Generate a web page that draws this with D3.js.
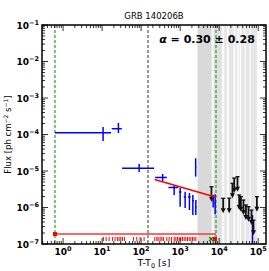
<!DOCTYPE html>
<html>
<head>
<meta charset="utf-8">
<script src="https://cdn.jsdelivr.net/npm/d3@7.9.0/dist/d3.min.js"></script>
<style>
  html, body { margin: 0; padding: 0; background: #fff; }
  svg { display: block; font-family: "DejaVu Sans", sans-serif; }
</style>
</head>
<body>
<svg id="chart" width="269" height="271"></svg>
<script>
// detected flux points: [t, tLow, tHigh, flux, fluxLow, fluxHigh]
const points = [
  [10.6, 0.62, 17.0, 1.12e-4, 6.6e-5, 1.6e-4],
  [26.2, 17.7, 32, 1.44e-4, 1.1e-4, 2.07e-4],
  [89, 32.6, 215, 1.19e-5, 9.4e-6, 1.56e-5],
  [356, 229, 456, 6.64e-6, 5.3e-6, 8.3e-6],
  [702, 501, 889, 3.53e-6, 2.2e-6, 4.1e-6],
  [1000, 930, 1080, 2.66e-6, 1.05e-6, 3.4e-6],
  [1343, 1240, 1420, 1.94e-6, 9.7e-7, 2.7e-6],
  [1730, 1590, 1850, 1.94e-6, 8.55e-7, 2.5e-6],
  [2117, 2020, 2230, 1.53e-6, 6.2e-7, 2.2e-6],
  [2496, 2420, 2580, 1.29e-5, 7.0e-6, 2.23e-5],
  [2520, 2440, 2600, 1.03e-6, 6.2e-7, 1.6e-6],
  [7020, 6800, 7250, 1.5e-6, 1.0e-6, 2.2e-6],
  [7890, 7600, 8150, 1.3e-6, 6.5e-7, 2.3e-6],
  [71400, 69000, 73500, 1.5e-7, 1e-8, 6.2e-7]
];

// upper limits: [t, flux]
const upperLimits = [
  [6350, 3.7e-6], [12670, 1.79e-6], [18050, 1.8e-6], [21900, 4.6e-6],
  [24260, 6.4e-6], [29450, 7.0e-6], [32560, 2.2e-6], [35980, 1.98e-6],
  [41950, 1.6e-6], [48380, 1.17e-6], [56420, 1.05e-6], [67340, 8.5e-7],
  [75740, 4.5e-7], [92700, 1.98e-6]
];

// power-law fit segment
const fitStart = [222, 5.85e-6];
const fitEnd = [8300, 1.9e-6];

// shaded intervals [start, end, shade]
const bands = [
  [2780, 6430, '#d9d9d9'], [7140, 11730, '#e0e0e0'], [13430, 15740, '#e6e6e6'],
  [17520, 23550, '#e6e6e6'], [25700, 28950, '#e6e6e6'], [31600, 33560, '#e6e6e6'],
  [36650, 45070, '#e6e6e6'], [47780, 60470, '#e6e6e6'], [64230, 92600, '#e6e6e6']
];

// rug of event times
const rugTimes = [
  10.8, 12.7, 15.1, 18.4, 21.5, 24.7, 27.3, 30.1, 33.2, 37.3, 63.5, 77.6, 94.2, 119,
  224, 253, 273, 307, 340, 373, 456, 522, 598, 702, 776, 853, 942, 1042, 1145, 1267,
  1400, 1540, 1702, 1880, 2067, 2285, 2528
];

const baseline = [0.62, 8300, 1.88e-7];
const greenLines = [0.62, 8300];
const greyLines = [150];
const xTicks = [1, 10, 100, 1000, 10000, 100000];
const yTicks = [1e-7, 1e-6, 1e-5, 1e-4, 1e-3, 1e-2, 1e-1];

const margin = { left: 42, right: 3, top: 25, bottom: 27 };
const width = 269, height = 271;
const svg = d3.select('#chart');

const x = d3.scaleLog().domain([Math.pow(10, -0.54), Math.pow(10, 5.2)])
  .range([margin.left, width - margin.right]);
const y = d3.scaleLog().domain([1e-7, 1e-1])
  .range([height - margin.bottom, margin.top]);

svg.append('clipPath').attr('id', 'clip').append('rect')
  .attr('x', margin.left).attr('y', margin.top)
  .attr('width', x.range()[1] - margin.left).attr('height', y.range()[0] - margin.top);

const plot = svg.append('g').attr('clip-path', 'url(#clip)');

// shaded bands
plot.selectAll('rect.band').data(bands).join('rect')
  .attr('x', (d) => x(d[0])).attr('width', (d) => x(d[1]) - x(d[0]))
  .attr('y', margin.top).attr('height', y.range()[0] - margin.top)
  .attr('fill', (d) => d[2]);

// vertical dashed lines
greenLines.forEach((t) => {
  plot.append('line').attr('x1', x(t)).attr('x2', x(t))
    .attr('y1', margin.top).attr('y2', y.range()[0])
    .attr('stroke', '#2a9a2a').attr('stroke-width', 1.2).attr('stroke-dasharray', '3,2');
});
greyLines.forEach((t) => {
  plot.append('line').attr('x1', x(t)).attr('x2', x(t))
    .attr('y1', margin.top).attr('y2', y.range()[0])
    .attr('stroke', '#555').attr('stroke-width', 1.2).attr('stroke-dasharray', '3,2');
});

// baseline + rug
plot.append('line').attr('x1', x(baseline[0])).attr('x2', x(baseline[1]))
  .attr('y1', y(baseline[2])).attr('y2', y(baseline[2]))
  .attr('stroke', '#f33').attr('stroke-width', 1.3);
plot.append('rect').attr('x', x(baseline[0]) - 2).attr('y', y(baseline[2]) - 2)
  .attr('width', 4).attr('height', 4).attr('fill', 'red');
plot.selectAll('line.rug').data(rugTimes).join('line')
  .attr('x1', (d) => x(d)).attr('x2', (d) => x(d))
  .attr('y1', y(baseline[2]) + 3).attr('y2', y(baseline[2]) + 7)
  .attr('stroke', 'red').attr('stroke-width', 1);
plot.append('path')
  .attr('d', `M${x(6240) - 2},${y(baseline[2]) + 3}l4,4m0,-4l-4,4`)
  .attr('stroke', 'green').attr('stroke-width', 1.2);
plot.append('rect').attr('x', x(7800) - 2).attr('y', y(baseline[2]) + 3)
  .attr('width', 4).attr('height', 4).attr('fill', 'red');

// flux points
const pts = plot.selectAll('g.pt').data(points).join('g');
pts.append('line')
  .attr('x1', (d) => x(d[1])).attr('x2', (d) => x(d[2]))
  .attr('y1', (d) => y(d[3])).attr('y2', (d) => y(d[3]))
  .attr('stroke', 'blue').attr('stroke-width', 1.5);
pts.append('line')
  .attr('x1', (d) => x(d[0])).attr('x2', (d) => x(d[0]))
  .attr('y1', (d) => y(d[4])).attr('y2', (d) => y(d[5]))
  .attr('stroke', 'blue').attr('stroke-width', 1.5);

// upper limits
const ul = plot.selectAll('g.ul').data(upperLimits).join('g');
ul.append('line')
  .attr('x1', (d) => x(d[0]) - 2).attr('x2', (d) => x(d[0]) + 2)
  .attr('y1', (d) => y(d[1])).attr('y2', (d) => y(d[1]))
  .attr('stroke', '#111').attr('stroke-width', 1.3);
ul.append('line')
  .attr('x1', (d) => x(d[0])).attr('x2', (d) => x(d[0]))
  .attr('y1', (d) => y(d[1])).attr('y2', (d) => y(d[1]) + 12)
  .attr('stroke', '#111').attr('stroke-width', 1.8);
ul.append('path')
  .attr('d', (d) => `M${x(d[0]) - 2.5},${y(d[1]) + 10}L${x(d[0]) + 2.5},${y(d[1]) + 10}L${x(d[0])},${y(d[1]) + 15}Z`)
  .attr('fill', '#111');

// fit line
plot.append('line')
  .attr('x1', x(fitStart[0])).attr('y1', y(fitStart[1]))
  .attr('x2', x(fitEnd[0])).attr('y2', y(fitEnd[1]))
  .attr('stroke', 'red').attr('stroke-width', 1.6);

// frame
const x0 = margin.left, x1 = width - margin.right, y0 = margin.top, y1 = height - margin.bottom;
svg.append('rect').attr('x', x0).attr('y', y0).attr('width', x1 - x0).attr('height', y1 - y0)
  .attr('fill', 'none').attr('stroke', '#000').attr('stroke-width', 1.5);

// ticks (inward, all sides)
const ticks = svg.append('g').attr('stroke', '#000').attr('stroke-width', 0.8);
function minorOf(major, dom) {
  const out = [];
  major.concat([major[0] / 10, major[major.length - 1] * 10]).forEach((m) => {
    for (let k = 2; k <= 9; k++) {
      const v = m * k;
      if (v >= dom[0] && v <= dom[1]) out.push(v);
    }
  });
  return out;
}
const xMinor = minorOf(xTicks, x.domain());
const yMinor = minorOf(yTicks, y.domain());
xTicks.forEach((t) => {
  ticks.append('line').attr('x1', x(t)).attr('x2', x(t)).attr('y1', y1).attr('y2', y1 - 6);
  ticks.append('line').attr('x1', x(t)).attr('x2', x(t)).attr('y1', y0).attr('y2', y0 + 6);
});
xMinor.forEach((t) => {
  ticks.append('line').attr('x1', x(t)).attr('x2', x(t)).attr('y1', y1).attr('y2', y1 - 3);
  ticks.append('line').attr('x1', x(t)).attr('x2', x(t)).attr('y1', y0).attr('y2', y0 + 3);
});
yTicks.forEach((v) => {
  ticks.append('line').attr('x1', x0).attr('x2', x0 + 6).attr('y1', y(v)).attr('y2', y(v));
  ticks.append('line').attr('x1', x1).attr('x2', x1 - 6).attr('y1', y(v)).attr('y2', y(v));
});
yMinor.forEach((v) => {
  ticks.append('line').attr('x1', x0).attr('x2', x0 + 3).attr('y1', y(v)).attr('y2', y(v));
  ticks.append('line').attr('x1', x1).attr('x2', x1 - 3).attr('y1', y(v)).attr('y2', y(v));
});

// tick labels
const minus = '\u2212';
xTicks.forEach((t) => {
  const e = Math.round(Math.log10(t));
  const txt = svg.append('text').attr('x', x(t)).attr('y', y1 + 10.5)
    .attr('text-anchor', 'middle').attr('font-size', 9).attr('font-weight', 'bold');
  txt.append('tspan').text('10');
  txt.append('tspan').attr('dy', -4).attr('font-size', 6.5).text(String(e).replace('-', minus));
});
yTicks.forEach((v) => {
  const e = Math.round(Math.log10(v));
  const txt = svg.append('text').attr('x', x0 - 3).attr('y', y(v) + 3.5)
    .attr('text-anchor', 'end').attr('font-size', 9).attr('font-weight', 'bold');
  txt.append('tspan').text('10');
  txt.append('tspan').attr('dy', -4).attr('font-size', 6.5).text(String(e).replace('-', minus));
});

// title, annotation, axis labels
svg.append('text').attr('x', (x0 + x1) / 2).attr('y', 19).attr('text-anchor', 'middle')
  .attr('font-size', 8.5).text('GRB 140206B');
svg.append('text').attr('x', 207).attr('y', 43).attr('text-anchor', 'middle')
  .attr('font-size', 11).attr('font-weight', 'bold')
  .html('<tspan font-style="italic">α</tspan> = 0.30 ± 0.28');

const yl = svg.append('text').attr('transform', `translate(11,${(y0 + y1) / 2}) rotate(-90)`)
  .attr('text-anchor', 'middle').attr('font-size', 8.5);
yl.append('tspan').text('Flux [ph cm');
yl.append('tspan').attr('dy', -3).attr('font-size', 6).text(minus + '2');
yl.append('tspan').attr('dy', 3).text(' s');
yl.append('tspan').attr('dy', -3).attr('font-size', 6).text(minus + '1');
yl.append('tspan').attr('dy', 3).text(']');

const xl = svg.append('text').attr('x', (x0 + x1) / 2).attr('y', 266)
  .attr('text-anchor', 'middle').attr('font-size', 9.5);
xl.append('tspan').text('T-T');
xl.append('tspan').attr('dy', 2).attr('font-size', 6.5).text('0');
xl.append('tspan').attr('dy', -2).text(' [s]');
</script>
</body>
</html>
